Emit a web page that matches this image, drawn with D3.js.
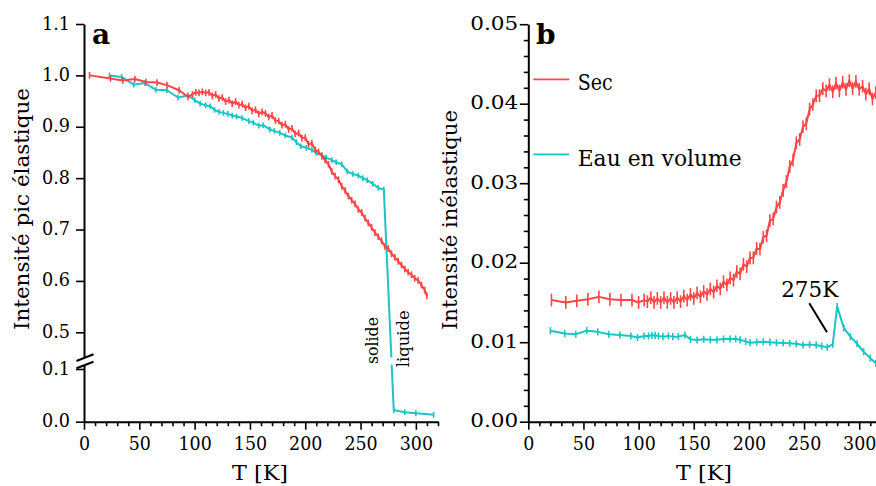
<!DOCTYPE html>
<html><head><meta charset="utf-8">
<script src="https://cdn.jsdelivr.net/npm/d3@7"></script>
<style>
body{margin:0;background:#fff}
</style>
</head><body>
<svg id="c" width="876" height="486"></svg>
<script>
// ---------- data (T [K], intensity) ----------
const secA = [[5,1.000],[24,0.994],[35,0.990],[46,0.993],[56,0.987],[66,0.986],[75,0.981],[86,0.971],[94,0.958],
[98,0.963],[101,0.967],[104,0.966],[107,0.968],[110,0.966],[113,0.967],[116,0.960],[119,0.963],[122,0.955],[125,0.957],
[128,0.949],[131,0.952],[134,0.945],[137,0.949],[140,0.942],[143,0.944],[146,0.937],[149,0.940],[152,0.931],[155,0.933],
[158,0.925],[161,0.929],[164,0.926],[167,0.919],[170,0.922],[173,0.912],[176,0.911],[179,0.903],[182,0.905],[185,0.895],
[188,0.897],[191,0.886],[194,0.888],[197,0.878],[200,0.879],[203,0.866],[206,0.868],[209,0.855],[212,0.851],[215,0.843],
[218,0.835],[221,0.827],[224,0.813],[227,0.804],[230,0.797],[233,0.784],[236,0.776],[239,0.765],[242,0.757],[245,0.750],
[248,0.739],[251,0.733],[254,0.722],[257,0.713],[260,0.704],[263,0.694],[266,0.686],[269,0.678],[272,0.667],[275,0.663],
[278,0.653],[281,0.646],[284,0.638],[287,0.631],[290,0.623],[293,0.617],[296,0.612],[299,0.605],[302,0.601],[305,0.592],
[308,0.582],[310,0.571]];
const eauA = [[23,1.000],[34,0.997],[45,0.982],[55,0.985],[65,0.972],[75,0.971],[85,0.957],[94,0.961],[100,0.952],[105,0.945],
[110,0.942],[114,0.940],[118,0.933],[122,0.929],[126,0.927],[130,0.925],[134,0.922],[138,0.920],[143,0.917],[149,0.911],
[153,0.908],[158,0.902],[162,0.903],[168,0.895],[172,0.892],[177,0.888],[182,0.883],[188,0.879],[192,0.870],[196,0.862],
[201,0.859],[206,0.855],[210,0.849],[215,0.845],[219,0.840],[224,0.835],[228,0.831],[233,0.827],[238,0.813],[243,0.808],
[248,0.805],[252,0.800],[256,0.796],[261,0.789],[266,0.781],[271,0.778],[280,0.022],[290,0.018],[300,0.016],[316,0.013]];
const secB = [[21,0.0153],[34,0.0150],[44,0.0152],[54,0.0154],[64,0.0157],[74,0.0154],[84,0.0153],[94,0.0153],[100,0.0150],[105,0.0153],
[108,0.0151],[111,0.0156],[114,0.0150],[117,0.0155],[120,0.0150],[123,0.0156],[126,0.0150],[129,0.0155],[132,0.0150],[135,0.0156],
[138,0.0151],[141,0.0158],[144,0.0153],[147,0.0160],[150,0.0155],[153,0.0162],[156,0.0157],[159,0.0164],[162,0.0160],[165,0.0167],
[168,0.0163],[171,0.0171],[174,0.0167],[177,0.0176],[180,0.0172],[183,0.0181],[186,0.0178],[189,0.0189],[192,0.0186],[195,0.0198],
[198,0.0195],[201,0.0206],[204,0.0206],[207,0.0218],[210,0.0217],[213,0.0232],[216,0.0234],[219,0.0253],[222,0.0255],[225,0.0270],
[228,0.0276],[231,0.0291],[234,0.0302],[237,0.0321],[240,0.0329],[243,0.0351],[246,0.0355],[249,0.0371],[252,0.0375],[255,0.0393],
[258,0.0399],[261,0.0410],[264,0.0410],[267,0.0419],[270,0.0416],[273,0.0424],[276,0.0415],[279,0.0426],[282,0.0416],[285,0.0427],
[288,0.0418],[291,0.0429],[294,0.0419],[297,0.0428],[300,0.0418],[303,0.0422],[306,0.0412],[309,0.0419],[312,0.0406],[315,0.0414]];
const eauB = [[20,0.01145],[33,0.0111],[43,0.0110],[53,0.01145],[63,0.0113],[73,0.0110],[83,0.0109],[93,0.01078],[99,0.0106],[105,0.01078],
[109,0.01078],[112,0.01087],[115,0.01085],[118,0.01078],[122,0.0107],[127,0.01078],[131,0.0107],[136,0.0107],[142,0.0109],[147,0.01036],
[153,0.01028],[159,0.01036],[165,0.0103],[171,0.0103],[177,0.0104],[183,0.0104],[188,0.0104],[192,0.0103],[197,0.0101],[201,0.00994],
[207,0.0100],[213,0.01006],[219,0.0100],[225,0.00994],[231,0.0099],[237,0.00986],[243,0.0098],[249,0.00965],[255,0.0097],[261,0.00965],
[266,0.0095],[271,0.00936],[276,0.00975],[280,0.01447],[286,0.0118],[292,0.0107],[298,0.0098],[304,0.0088],[310,0.0080],[315,0.00735]];
const errSecA = 0.0065, errEauA = 0.0055, errSecB = 0.0008, errEauB = 0.00045;

const xTicks = [0,50,100,150,200,250,300];
const yTicksAUpper = [0.5,0.6,0.7,0.8,0.9,1.0,1.1];
const yTicksALower = [0.0,0.1];
const yTicksB = [0.00,0.01,0.02,0.03,0.04,0.05];
const seriesNames = ["Sec","Eau en volume"];
const colors = {sec:"#ff4545", eau:"#1cc4c4"};

const svg = d3.select("#c");
svg.append("rect").attr("width",876).attr("height",486).attr("fill","#fff");
const FONT = '"DejaVu Serif"';
const S = {tick:19, title:21, leg:22, lab:28, small:17, ann:22};

// ---------- scales ----------
const xA = d3.scaleLinear([0,320],[84,438]);
const yAu0 = d3.scaleLinear([0.5,1.1],[332.3,24]);
const yAu = d3.scaleLinear([yAu0.invert(357),1.1],[357,24]);
const yAl0 = d3.scaleLinear([0,0.1],[421.7,369]);
const yAl = d3.scaleLinear([0,yAl0.invert(365)],[421.7,365]);
const yA = v => v > 0.3 ? yAu(v) : yAl(v);

const xB = d3.scaleLinear([0,315.2],[528.3,876]);
const yB = d3.scaleLinear([0,0.05],[421.7,24.2]);

function drawSeries(data, xs, ys, color, err){
  const g = svg.append("g");
  g.append("path").datum(data)
    .attr("d", d3.line().x(d=>xs(d[0])).y(d=>ys(d[1])))
    .attr("fill","none").attr("stroke",color).attr("stroke-width",2).attr("stroke-linejoin","round");
  g.selectAll("line").data(data).join("line")
    .attr("x1",d=>xs(d[0])).attr("x2",d=>xs(d[0]))
    .attr("y1",d=>ys(d[1]+err)).attr("y2",d=>ys(d[1]-err))
    .attr("stroke",color).attr("stroke-width",1.6);
}

drawSeries(eauA, xA, yA, colors.eau, errEauA);
drawSeries(secA, xA, yA, colors.sec, errSecA);
svg.append("rect").attr("x",86).attr("y",357.5).attr("width",354).attr("height",7).attr("fill","#fff");
drawSeries(eauB, xB, yB, colors.eau, errEauB);
drawSeries(secB, xB, yB, colors.sec, errSecB);

// ---------- axes ----------
function style(g){
  g.attr("font-family",null).attr("font-size",null);
  g.select(".domain").attr("stroke","#000").attr("stroke-width",2);
  g.selectAll(".tick line").attr("stroke","#000").attr("stroke-width",1.6);
  g.selectAll(".tick text").attr("fill","#000").style("font-family",FONT).style("font-size",S.tick+"px");
  return g;
}
function xAxis(xs, minorMax){
  const g = svg.append("g").attr("transform","translate(0,421.7)")
    .call(d3.axisBottom(xs).tickValues(xTicks).tickSize(8).tickSizeOuter(0).tickFormat(d3.format("d")));
  style(g);
  g.selectAll(".tick text").attr("y",28.3).attr("dy",null)
    .attr("textLength",d=>String(d).length*11.1).attr("lengthAdjust","spacingAndGlyphs");
  const m = svg.append("g").attr("transform","translate(0,421.7)")
    .call(d3.axisBottom(xs).tickValues(d3.range(10,minorMax+1,10).filter(v=>v%50)).tickSize(4.5).tickFormat(""));
  m.select(".domain").remove();
  m.selectAll(".tick line").attr("stroke","#000").attr("stroke-width",1.6);
}
xAxis(xA, 320);
xAxis(xB, 310);

let g = svg.append("g").attr("transform","translate(84,0)")
  .call(d3.axisLeft(yAu).tickValues(yTicksAUpper).tickSize(8).tickSizeOuter(0).tickFormat(d3.format(".1f")));
style(g); g.selectAll(".tick text").attr("x",-14).attr("dy",null).attr("y",5).attr("textLength",28).attr("lengthAdjust","spacingAndGlyphs");
g = svg.append("g").attr("transform","translate(84,0)")
  .call(d3.axisLeft(yAl).tickValues(yTicksALower).tickSize(8).tickSizeOuter(0).tickFormat(d3.format(".1f")));
style(g); g.selectAll(".tick text").attr("x",-14).attr("dy",null).attr("y",5).attr("textLength",28).attr("lengthAdjust","spacingAndGlyphs");
[[361,354.3],[368.3,361.7]].forEach(([a,b])=>{
  svg.append("line").attr("x1",76.5).attr("y1",a).attr("x2",93.5).attr("y2",b)
    .attr("stroke","#000").attr("stroke-width",2);
});

g = svg.append("g").attr("transform","translate(528.3,0)")
  .call(d3.axisLeft(yB).tickValues(yTicksB).tickSize(8.5).tickSizeOuter(0).tickFormat(d3.format(".2f")));
style(g); g.selectAll(".tick text").attr("x",-10).attr("dy",null).attr("y",5)
  .attr("textLength",48).attr("lengthAdjust","spacingAndGlyphs");
const mb = svg.append("g").attr("transform","translate(528.3,0)")
  .call(d3.axisLeft(yB).tickValues(d3.range(0,0.0501,0.002).filter(v=>Math.abs(v*100-Math.round(v*100))>1e-6)).tickSize(4.5).tickFormat(""));
mb.select(".domain").remove();
mb.selectAll(".tick line").attr("stroke","#000").attr("stroke-width",1.6);

// ---------- texts ----------
function txt(s, x, y, opt={}){
  const t = svg.append("text").attr("x",x).attr("y",y).text(s)
    .style("font-family",FONT).style("font-size",(opt.size||S.title)+"px")
    .attr("fill","#000").attr("text-anchor",opt.anchor||"start");
  if(opt.bold) t.style("font-weight","bold");
  if(opt.rot) t.attr("transform",`rotate(${opt.rot},${x},${y})`);
  if(opt.len) t.attr("textLength",opt.len).attr("lengthAdjust","spacingAndGlyphs");
  return t;
}
txt("Intensité pic élastique", 29, 209, {rot:-90, anchor:"middle", len:242});
txt("Intensité inélastique", 457, 220, {rot:-90, anchor:"middle", len:220});
txt("T [K]", 260, 480, {anchor:"middle", len:56});
txt("T [K]", 704, 480, {anchor:"middle", len:56});
txt("a", 92, 43.5, {bold:true, size:S.lab});
txt("b", 536, 43.5, {bold:true, size:S.lab});
txt("solide", 378, 340.5, {rot:-90, anchor:"middle", size:S.small, len:47});
txt("liquide", 409, 338.7, {rot:-90, anchor:"middle", size:S.small, len:57});
txt("275K", 809.7, 297, {anchor:"middle", size:S.ann, len:57});
svg.append("line").attr("x1",809.3).attr("y1",303.3).attr("x2",827).attr("y2",332.3)
  .attr("stroke","#000").attr("stroke-width",2);

[[colors.sec,79.3,90,seriesNames[0],35],[colors.eau,154.3,165.7,seriesNames[1],164]].forEach(([c,ly,ty,name,len])=>{
  svg.append("line").attr("x1",533.3).attr("x2",569.3).attr("y1",ly).attr("y2",ly)
    .attr("stroke",c).attr("stroke-width",1.8);
  txt(name, 577.7, ty, {size:S.leg, len:len});
});
</script>
</body></html>
